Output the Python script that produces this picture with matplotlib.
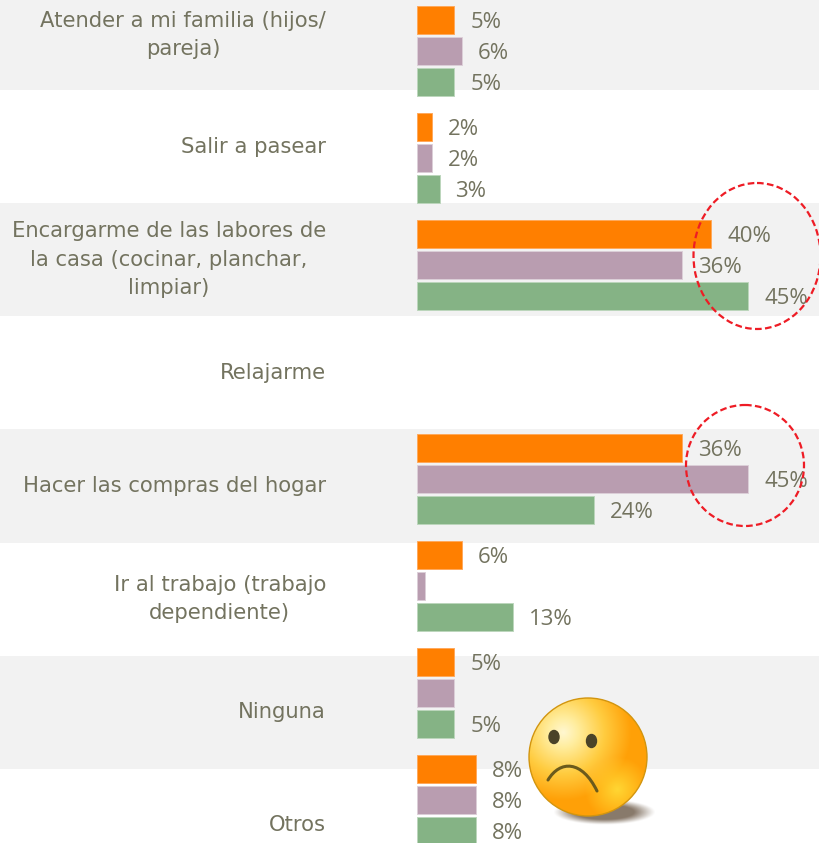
import numpy as np
from matplotlib import pyplot as plt
from matplotlib.patches import Circle, Ellipse, PathPatch
from matplotlib.path import Path

categories = ['Atender a mi familia (hijos/\npareja)', 'Salir a pasear',
              'Encargarme de las labores de\nla casa (cocinar, planchar,\nlimpiar)',
              'Relajarme', 'Hacer las compras del hogar',
              'Ir al trabajo (trabajo\ndependiente)', 'Ninguna', 'Otros']
orange_values = [5, 2, 40, None, 36, 6, 5, 8]
purple_values = [6, 2, 36, None, 45, 1, 5, 8]
green_values = [5, 3, 45, None, 24, 13, 5, 8]
# bars that have no number next to them in the picture
purple_unlabelled = [5, 6]

W, H = 820, 843
TEXT = '#73735f'
CAT_FONT = 'DejaVu Sans'
VAL_FONT = 'Open Sans'

fig = plt.figure(figsize=(W / 100, H / 100), dpi=100, facecolor='white')

# background bands and category names, in pixels
bg = fig.add_axes([0, 0, 1, 1])
bg.set_xlim(0, W)
bg.set_ylim(H, 0)
bg.axis('off')
for i in range(0, 8, 2):
    bg.axhspan(-23 + 113.1 * i, -23 + 113.1 * (i + 1), color='#f2f2f2', lw=0)
for i, name in enumerate(categories):
    y = 33.5 + 113.1 * i if i else 35
    bg.text(326, y, name, color=TEXT, fontsize=15.2, family=CAT_FONT, ha='right',
            va='center', multialignment='center', linespacing=1.52)

# bars
x0 = 417.5
px_per_pct = 7.35
group_px = 107.0
ax = fig.add_axes([x0 / W, 0, 1 - x0 / W, 1])
ax.patch.set_alpha(0)
ax.set_xlim(0, (W - x0) / px_per_pct)
ax.set_ylim((H - 51) / group_px, -51 / group_px)
ax.axis('off')

series = [(orange_values, '#ff7f00', '#ffa95c', -1),
          (purple_values, '#b99db0', '#dccfd8', 0),
          (green_values, '#85b385', '#bcd6bc', 1)]
for vals, col, edge, k in series:
    for i, v in enumerate(vals):
        if v is None:
            continue
        y = i + k * 31 / group_px
        ax.barh(y, v, height=27.5 / group_px, color=col, edgecolor=edge, linewidth=0.7)
        if k == 0 and i in purple_unlabelled:
            continue
        ax.text(v + 16 / px_per_pct, y + 3 / group_px, '%d%%' % v, color=TEXT, fontsize=16,
                family=VAL_FONT, ha='left', va='center', clip_on=False)

# dashed rings and the sad face, in pixels
top = fig.add_axes([0, 0, 1, 1])
top.patch.set_alpha(0)
top.set_xlim(0, W)
top.set_ylim(H, 0)
top.axis('off')
for cx, cy, w, h in [(757, 256, 127, 146), (745, 465.5, 118, 121)]:
    top.add_patch(Ellipse((cx, cy), w, h, fill=False, edgecolor='#ee1c25', lw=1.6,
                          linestyle=(0, (3.0, 1.5)), clip_on=False))

# shadow
sx, sy = np.meshgrid(np.linspace(-1, 1, 160), np.linspace(-1, 1, 60))
shadow = np.zeros(sx.shape + (4,))
shadow[..., :3] = (0.38, 0.3, 0.22)
shadow[..., 3] = np.clip(1.2 * (1 - (sx ** 2 + sy ** 2)), 0, 0.8) ** 1.3
top.imshow(shadow, extent=(553, 656, 825, 799), aspect='auto', zorder=3, interpolation='bilinear')

# face gradient
cx, cy, r = 588, 757, 59
gx, gy = np.meshgrid(np.linspace(-1, 1, 240), np.linspace(-1, 1, 240))
light = np.hypot(gx + 0.42, gy + 0.42)
stops = [0, 0.25, 0.7, 1.15, 2.2]
reds = [1.0, 1.0, 1.0, 1.0, 1.0]
greens = [0.97, 0.93, 0.80, 0.63, 0.63]
blues = [0.82, 0.62, 0.25, 0.03, 0.03]
face = np.dstack([np.interp(light, stops, c) for c in (reds, greens, blues)])
# yellow glow low on the right
glow = np.clip(1 - np.hypot(gx - 0.5, gy - 0.55) / 0.55, 0, 1)[..., None]
face = face * (1 - glow) + np.array([1.0, 0.84, 0.2]) * glow
img = top.imshow(face, extent=(cx - r, cx + r, cy + r, cy - r), aspect='auto', zorder=4,
                 interpolation='bilinear')
ring = Circle((cx, cy), r, transform=top.transData)
img.set_clip_path(ring)
top.add_patch(Circle((cx, cy), r, fill=False, edgecolor='#d2950f', lw=1.0, zorder=5))
top.add_patch(Ellipse((554, 737), 10, 13, color='#4a4328', zorder=6))
top.add_patch(Ellipse((591.5, 741), 10, 13, color='#4a4328', zorder=6))
mouth = Path([(548, 780), (560, 760), (582, 760), (597, 791)],
             [Path.MOVETO, Path.CURVE4, Path.CURVE4, Path.CURVE4])
top.add_patch(PathPatch(mouth, fill=False, edgecolor='#6b5a1c', lw=2.2, zorder=6, capstyle='round'))
top.set_xlim(0, W)
top.set_ylim(H, 0)

fig.savefig('out.png', dpi=100)
